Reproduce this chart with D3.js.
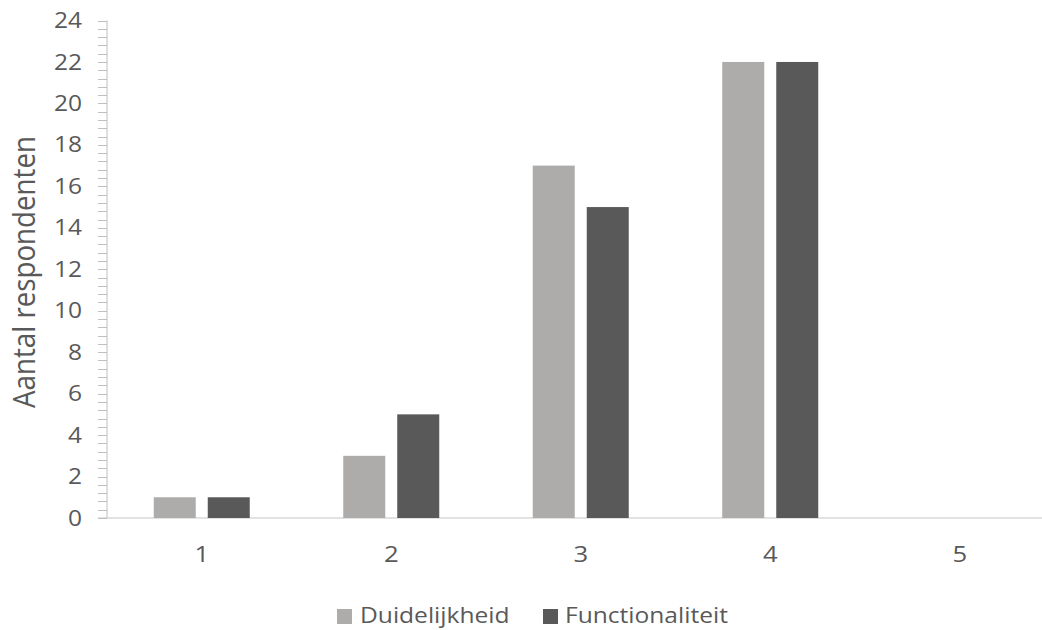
<!DOCTYPE html>
<html><head><meta charset="utf-8">
<script src="https://cdn.jsdelivr.net/npm/d3@7"></script>
<style>body{margin:0;background:#fff;}svg{display:block;font-family:"Open Sans","Noto Sans",sans-serif;}</style>
</head><body>
<svg id="c" width="1042" height="630"></svg>
<script>
const categories = ["1","2","3","4","5"];
const seriesNames = ["Duidelijkheid","Functionaliteit"];
const duidelijkheid = [1,3,17,22,0];
const functionaliteit = [1,5,15,22,0];
const yTicks = [0,2,4,6,8,10,12,14,16,18,20,22,24];
const colors = ["#AEABAB","#595959"];
const textColor = "#595959";

(function(){
const svg = d3.select("#c");
const sx = 1.17;
const mLeft = 107, mRight = 1054.5, mTop = 20.5, mBottom = 518;
const x = d3.scaleBand().domain(categories).range([mLeft, mRight]);
const y = d3.scaleLinear().domain([0,24]).range([mBottom, mTop]);
const data = categories.map((c,i)=>({cat:c, vals:[duidelijkheid[i], functionaliteit[i]]}));
const barW = 42, gap = 12;

svg.append("line").attr("x1",98).attr("x2",1042).attr("y1",mBottom).attr("y2",mBottom)
  .attr("stroke","#d9d9d9").attr("stroke-width",1.5);

const g = svg.append("g");
data.forEach(d=>{
  d.vals.forEach((v,j)=>{
    if(v<=0) return;
    const cx = x(d.cat)+x.bandwidth()/2;
    const bx = j===0 ? cx - gap/2 - barW : cx + gap/2;
    g.append("rect").attr("x",bx).attr("width",barW)
      .attr("y",y(v)).attr("height",y(0)-y(v))
      .attr("fill",colors[j]);
  });
});

const minor = d3.range(0,24.01,0.4);
const ya = svg.append("g");
ya.append("line").attr("x1",mLeft).attr("x2",mLeft).attr("y1",mTop).attr("y2",mBottom)
  .attr("stroke","#bfbfbf").attr("stroke-width",1);
ya.selectAll("line.m").data(minor).enter().append("line").attr("class","m")
  .attr("x1",mLeft-9).attr("x2",mLeft).attr("y1",d=>Math.round(y(d))+0.5).attr("y2",d=>Math.round(y(d))+0.5)
  .attr("stroke","#bfbfbf").attr("stroke-width",1);
ya.selectAll("text").data(yTicks).enter().append("text")
  .attr("transform",d=>`translate(82,${y(d)}) scale(${sx},1)`).attr("dy","0.36em")
  .attr("text-anchor","end").attr("font-size",21).attr("fill",textColor)
  .text(d=>d);

svg.selectAll("text.xl").data(categories).enter().append("text").attr("class","xl")
  .attr("transform",d=>`translate(${x(d)+x.bandwidth()/2},562) scale(${sx},1)`)
  .attr("text-anchor","middle").attr("font-size",22).attr("fill",textColor).text(d=>d);

svg.append("text").attr("transform",`translate(35,272) scale(${sx},1) rotate(-90)`)
  .attr("text-anchor","middle").attr("font-size",26).attr("fill",textColor)
  .attr("textLength",272).attr("lengthAdjust","spacingAndGlyphs")
  .text("Aantal respondenten");

const leg = [{name:seriesNames[0], x:337, tx:360},{name:seriesNames[1], x:543, tx:565}];
leg.forEach((l,i)=>{
  svg.append("rect").attr("x",l.x).attr("y",609).attr("width",15).attr("height",15).attr("fill",colors[i]);
  svg.append("text").attr("transform",`translate(${l.tx},623) scale(${sx},1)`)
    .attr("font-size",21).attr("fill",textColor).text(l.name);
});
})();
</script>
</body></html>
